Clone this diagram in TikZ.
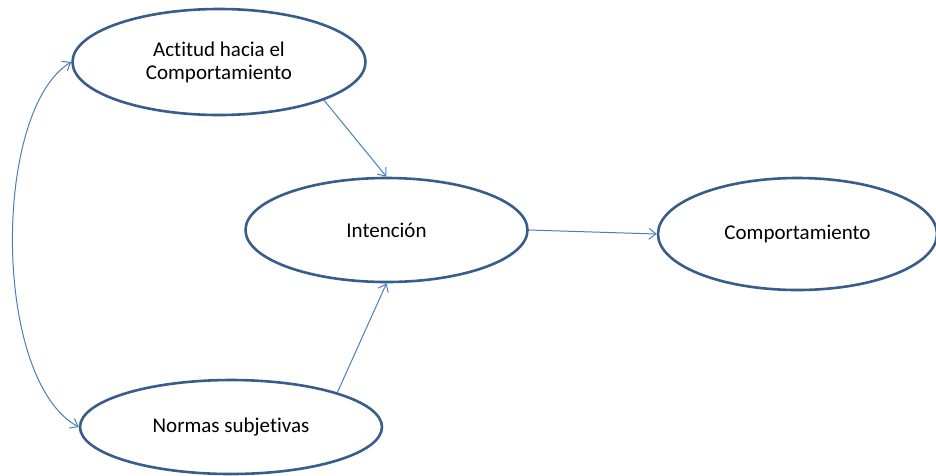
\documentclass[tikz,border=0pt]{standalone}
\usepackage{fontspec}
\setmainfont{Carlito}[RawFeature={-liga;-clig}]
\usetikzlibrary{shapes.geometric,arrows.meta}
\definecolor{ellblue}{HTML}{385D8A}
\definecolor{arrblue}{HTML}{4A7EBB}
\begin{document}
\begin{tikzpicture}[x=1pt,y=-1pt,
  oval/.style={ellipse, draw=ellblue, line width=2.6pt, fill=white, inner sep=0pt,
    align=center, font=\fontsize{21}{23}\selectfont},
  conn/.style={draw=arrblue, line width=1pt, -{Straight Barb[length=7pt,width=11pt]}}]
\useasboundingbox (0,0) rectangle (936,475);
\node[oval, minimum width=293pt, minimum height=106pt] (a) at (219,62) {Actitud hacia el\\Comportamiento};
\node[oval, minimum width=282pt, minimum height=104pt] (i) at (386.5,230) {Intención};
\node[oval, minimum width=279pt, minimum height=112pt] (c) at (797.5,234) {Comportamiento};
\node[oval, minimum width=302pt, minimum height=94pt] (n) at (231,427) {Normas subjetivas};
\draw[conn] (a.-20) -- (i.north);
\draw[conn] (n.18) -- (i.south);
\draw[conn] (i.east) -- (c.west);
\draw[conn, {Straight Barb[length=7pt,width=11pt]}-{Straight Barb[length=7pt,width=11pt]}]
  (a.west) .. controls (-8,110) and (-8,380) .. (n.west);
\end{tikzpicture}
\end{document}
